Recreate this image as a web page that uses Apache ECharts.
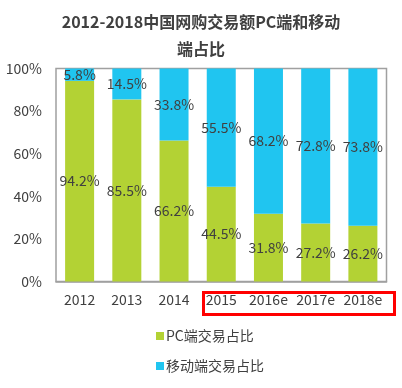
<!DOCTYPE html>
<html><head><meta charset="utf-8">
<script src="https://cdn.jsdelivr.net/npm/echarts@6/dist/echarts.min.js"></script>
<style>html,body{margin:0;padding:0;background:#fff}#c{width:402px;height:388px}</style>
</head><body><div id="c"></div>
<script>
const categories = ['2012','2013','2014','2015','2016e','2017e','2018e'];
const pcShare = [94.2, 85.5, 66.2, 44.5, 31.8, 27.2, 26.2];
const mobileShare = [5.8, 14.5, 33.8, 55.5, 68.2, 72.8, 73.8];
const yTicks = [0, 20, 40, 60, 80, 100];
const seriesNames = ['PC端交易占比', '移动端交易占比'];

const FONT = "'Noto Sans CJK SC', 'Noto Sans', sans-serif";
const chart = echarts.init(document.getElementById('c'));
chart.setOption({
  animation: false,
  textStyle: { fontFamily: FONT },
  title: {
    text: '2012-2018中国网购交易额PC端和移动\n端占比',
    left: 'center', top: 3,
    textStyle: { fontSize: 16, fontWeight: 'bold', color: '#404040', lineHeight: 27, fontFamily: FONT }
  },
  grid: { left: 56, right: 15.5, top: 68.5, bottom: 106.5, show: true, borderColor: '#a0a0a0', borderWidth: 1.5 },
  legend: {
    orient: 'vertical', left: 151, top: 324, itemGap: 16,
    itemWidth: 8, itemHeight: 8, icon: 'rect',
    textStyle: { fontSize: 14, color: '#404040', fontFamily: FONT, padding: [0, 0, 0, -3] },
    data: seriesNames
  },
  xAxis: {
    type: 'category', data: categories,
    axisLine: { lineStyle: { color: '#a0a0a0', width: 1.5 } },
    axisTick: { show: false },
    axisLabel: { interval: 0, fontSize: 14, color: '#404040', margin: 11, fontFamily: FONT }
  },
  yAxis: {
    type: 'value', min: yTicks[0], max: yTicks[yTicks.length - 1], interval: 20,
    axisLine: { show: false }, axisTick: { show: false }, splitLine: { show: false },
    axisLabel: { formatter: '{value}%', fontSize: 14, color: '#404040', margin: 14, fontFamily: FONT }
  },
  series: [
    {
      name: seriesNames[0], type: 'bar', stack: 's', data: pcShare, barWidth: 29,
      itemStyle: { color: '#b3d234' },
      label: { show: true, position: 'inside', formatter: '{c}%', fontSize: 14, color: '#404040', fontFamily: FONT }
    },
    {
      name: seriesNames[1], type: 'bar', stack: 's', data: mobileShare, barWidth: 29,
      itemStyle: { color: '#20c5f0' },
      label: { show: true, position: 'inside', formatter: '{c}%', fontSize: 14, color: '#404040', fontFamily: FONT }
    }
  ],
  graphic: [{
    type: 'rect', left: 201, top: 290,
    shape: { width: 191, height: 22 },
    style: { fill: 'none', stroke: '#ff0000', lineWidth: 3 }
  }]
});
</script></body></html>
